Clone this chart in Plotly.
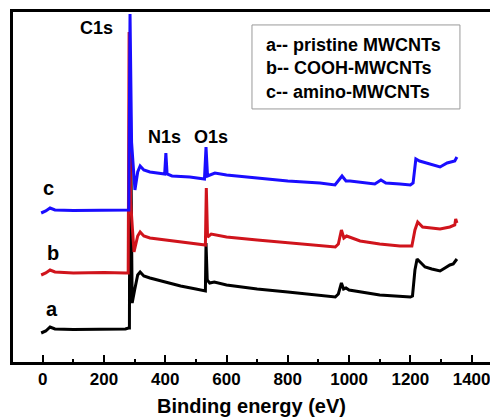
import plotly.graph_objects as go

# Binding energy (eV) and intensity (a.u., vertically offset)
energy_a = [-5, 10, 24, 40, 100, 200, 270, 280, 283, 285, 289, 292, 300, 310, 318, 330, 350, 400, 450, 500,
            528, 531, 533, 537, 545, 560, 600, 700, 800, 900, 955, 965, 975, 982, 990, 1000, 1036, 1100,
            1150, 1200, 1207, 1215, 1222, 1232, 1248, 1270, 1297, 1313, 1329, 1340, 1345, 1352]
intensity_a = [29, 31, 35, 33, 32.5, 33, 33, 34, 34, 302, 150, 59, 72, 87, 90, 86, 84, 80, 76, 73,
               71, 71, 119, 82, 79, 80, 77, 73, 70, 67, 65, 68, 79, 73, 74, 72, 70, 67,
               66, 65, 66, 92, 103, 100, 95, 93, 91, 94, 97, 98, 100, 103]

energy_b = [-5, 10, 24, 40, 100, 200, 270, 279, 282, 287, 298, 310, 318, 330, 350, 400, 450, 500, 528,
            531, 534, 538, 550, 600, 700, 800, 900, 955, 965, 975, 983, 992, 1036, 1100, 1166, 1205,
            1215, 1224, 1240, 1264, 1297, 1329, 1345, 1348, 1352]
intensity_b = [87, 89, 92, 90, 89, 89.5, 89, 89, 330, 160, 110, 126, 130, 126, 124, 122, 120, 118, 117,
               117, 174, 125, 128, 125, 122, 119, 116, 115, 118, 132, 124, 126, 121, 118, 116, 116,
               132, 140, 135, 134, 133, 135, 137, 143, 139]

energy_c = [-5, 10, 24, 40, 100, 200, 270, 281, 285, 290, 301, 310, 318, 330, 350, 398, 402, 406, 422,
            480, 528, 533, 538, 562, 600, 700, 800, 905, 954, 977, 990, 1003, 1050, 1084, 1104, 1120,
            1166, 1200, 1209, 1218, 1230, 1264, 1297, 1320, 1345, 1352]
intensity_c = [149, 151, 154, 152, 151.5, 152, 152, 152, 348, 220, 172, 190, 196, 192, 190, 188, 209, 188, 186,
               185, 183, 215, 186, 189, 187, 184, 181, 179, 177, 186, 181, 181, 179, 178, 182, 179,
               178, 177, 179, 203, 201, 198, 195, 199, 201, 205]

series_names = ["a-- pristine MWCNTs", "b-- COOH-MWCNTs", "c-- amino-MWCNTs"]
series_colors = ["#000000", "#d0141c", "#1a0dff"]
tick_values = [0, 200, 400, 600, 800, 1000, 1200, 1400]

FONT = "Arial, Liberation Sans, sans-serif"

fig = go.Figure()
for ex, iy, name, col in zip([energy_a, energy_b, energy_c], [intensity_a, intensity_b, intensity_c],
                             series_names, series_colors):
    fig.add_trace(go.Scatter(x=ex, y=iy, mode="lines", name=name,
                             line=dict(color=col, width=3), showlegend=False))

# peak and curve labels
labels = [("C1s", 176, 334, 18), ("N1s", 399, 225, 18), ("O1s", 548, 225, 18),
          ("c", 20, 174, 20), ("b", 32, 109, 20), ("a", 30, 53, 20)]
for txt, lx, ly, fs in labels:
    fig.add_annotation(x=lx, y=ly, text=txt, showarrow=False, xanchor="center", yanchor="middle",
                       font=dict(family=FONT, size=fs, color="black", weight="bold"))

# legend box
fig.add_shape(type="rect", xref="paper", yref="paper", x0=0.501, x1=0.937, y0=0.723, y1=0.963,
              line=dict(color="#9a9a9a", width=1), fillcolor="white")
fig.add_annotation(xref="paper", yref="paper", x=0.526, y=0.840, xanchor="left", yanchor="middle",
                   align="left", showarrow=False, text="<br>".join(series_names),
                   font=dict(family=FONT, size=18, color="black", weight="bold"))

# the figure is a bit wider than the window: the plot area reaches the window's right edge
# and the right part (as in the reference crop) falls outside the visible area
fig.update_layout(
    width=510, height=417,
    margin=dict(l=13, r=20, t=12, b=55),
    paper_bgcolor="white", plot_bgcolor="white",
    xaxis=dict(range=[-97, 1460], showline=True, linewidth=3, linecolor="black", mirror=True,
               ticks="inside", ticklen=7, tickwidth=2, tickcolor="black",
               tickvals=tick_values, ticklabeloverflow="allow", automargin=False,
               minor=dict(ticks="inside", ticklen=3, tickwidth=2, dtick=100, tick0=0, tickcolor="black"),
               showgrid=False, zeroline=False,
               tickfont=dict(family=FONT, size=17, color="black", weight="bold"),
               title=dict(text="Binding energy (eV)", standoff=17,
                          font=dict(family=FONT, size=20, color="black", weight="bold"))),
    yaxis=dict(range=[0, 350], showline=True, linewidth=3, linecolor="black", mirror=False,
               automargin=False,
               ticks="", showticklabels=False, showgrid=False, zeroline=False),
)

fig.write_html("out.html", config={"displayModeBar": False},
               post_script="document.body.style.margin='0px';document.body.style.overflow='hidden';"
                           "document.documentElement.style.overflow='hidden';")
